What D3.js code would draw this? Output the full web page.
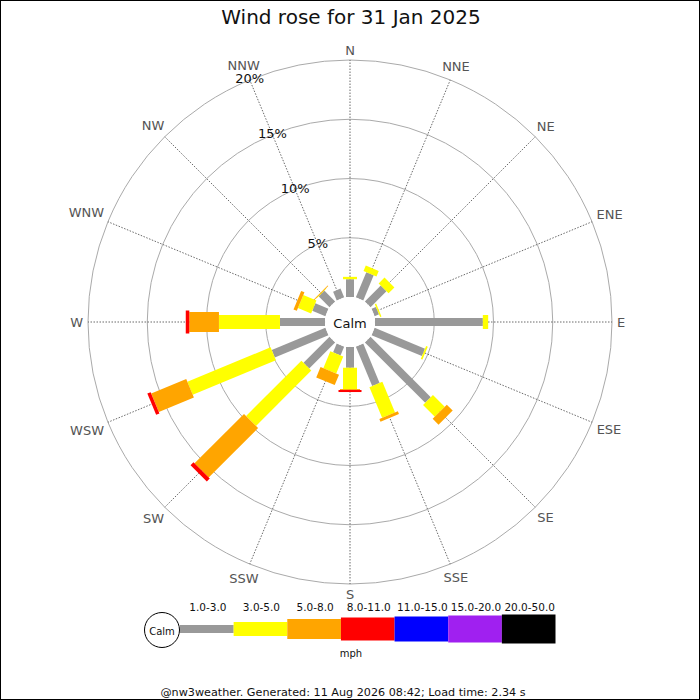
<!DOCTYPE html>
<html>
<head>
<meta charset="utf-8">
<script src="https://cdn.jsdelivr.net/npm/d3@7"></script>
<style>
  body { margin: 0; background: #fff; }
  svg { display: block; font-family: "DejaVu Sans", sans-serif; }
</style>
</head>
<body>
<div id="chart"></div>
<script>
//
// Wind rose for 31 Jan 2025 - stacked speed bands per compass direction
//

const directions = ["N", "NNE", "NE", "ENE", "E", "ESE", "SE", "SSE",
                    "S", "SSW", "SW", "WSW", "W", "WNW", "NW", "NNW"];

const speedBands = ["1.0-3.0", "3.0-5.0", "5.0-8.0", "8.0-11.0", "11.0-15.0", "15.0-20.0", "20.0-50.0"];
const bandColors = ["#999999", "#ffff00", "#ffa500", "#ff0000", "#0000ff", "#a020f0", "#000000"];
const bandWidths = [8, 14, 20, 23, 25, 27, 29];

// percentage of time per direction, one array per speed band
const band1to3   = [1.5, 2.3, 1.9, 0.4, 9.1, 4.6, 7.2, 3.6, 1.75, 0.8, 3.1, 4.9, 3.8, 1.2, 1.3, 0.8];
const band3to5   = [0.2, 0.5, 0.7, 0.12, 0.45, 0.15, 1.4, 2.8, 1.8, 1.55, 6.6, 7.6, 5.15, 1.2, 0.03, 0];
const band5to8   = [0, 0, 0, 0, 0, 0, 0.7, 0.25, 0.08, 0.95, 5.9, 3.2, 2.5, 0.3, 0.05, 0];
const band8to11  = [0, 0, 0, 0, 0, 0, 0, 0, 0.17, 0, 0.35, 0.3, 0.3, 0, 0, 0];
const band11to15 = [0, 0, 0, 0, 0, 0, 0, 0, 0, 0, 0, 0, 0, 0, 0, 0];
const band15to20 = [0, 0, 0, 0, 0, 0, 0, 0, 0, 0, 0, 0, 0, 0, 0, 0];
const band20to50 = [0, 0, 0, 0, 0, 0, 0, 0, 0, 0, 0, 0, 0, 0, 0, 0];

const ringTicks = [5, 10, 15, 20];

const bands = [band1to3, band3to5, band5to8, band8to11, band11to15, band15to20, band20to50];

// ----------------------------------------
// SETUP
// ----------------------------------------
const W = 700, H = 700;
const cx = 350, cy = 322;
const calmR = 25;

const svg = d3.select("#chart").append("svg")
    .attr("width", W)
    .attr("height", H);

svg.append("rect")
    .attr("x", 0.5).attr("y", 0.5)
    .attr("width", W - 1).attr("height", H - 1)
    .attr("fill", "#fff")
    .attr("stroke", "#000");

svg.append("text")
    .attr("x", 351).attr("y", 24)
    .attr("text-anchor", "middle")
    .attr("font-size", 20)
    .attr("fill", "#111")
    .text("Wind rose for 31 Jan 2025");

const r = d3.scaleLinear().domain([0, 20]).range([calmR, 262]);

const angle = d3.scalePoint().domain(directions).range([0, 360 - 22.5]);

const g = svg.append("g").attr("transform", `translate(${cx},${cy})`);

// ----------------------------------------
// GRID: rings and direction spokes
// ----------------------------------------
g.selectAll("circle.ring")
    .data(ringTicks)
    .join("circle")
    .attr("class", "ring")
    .attr("r", d => r(d))
    .attr("fill", "none")
    .attr("stroke", "#aaa")
    .attr("stroke-width", 1);

g.selectAll("line.spoke")
    .data(directions)
    .join("line")
    .attr("class", "spoke")
    .attr("x1", 0).attr("y1", 0)
    .attr("x2", d => r(20) * Math.sin(angle(d) * Math.PI / 180))
    .attr("y2", d => -r(20) * Math.cos(angle(d) * Math.PI / 180))
    .attr("stroke", "#444")
    .attr("stroke-width", 0.8)
    .attr("stroke-dasharray", "1.5,1.5");

// direction labels
g.selectAll("text.dir")
    .data(directions)
    .join("text")
    .attr("class", "dir")
    .attr("font-size", 13)
    .attr("fill", "#555")
    .attr("text-anchor", "middle")
    .attr("dominant-baseline", "central")
    .text(d => d)
    .each(function (d) {
        const a = angle(d) * Math.PI / 180;
        const w = this.getComputedTextLength();
        const rr = 267 + Math.abs(Math.sin(a)) * w / 2 + Math.abs(Math.cos(a)) * 5;
        d3.select(this)
            .attr("x", rr * Math.sin(a))
            .attr("y", -rr * Math.cos(a));
    });

// ----------------------------------------
// BARS
// ----------------------------------------
directions.forEach((dir, i) => {
    const dg = g.append("g")
        .attr("transform", `rotate(${angle(dir) - 90})`);
    let acc = 0;
    bands.forEach((band, b) => {
        const v = band[i];
        if (v <= 0) return;
        const x0 = r(acc), x1 = r(acc + v);
        acc += v;
        dg.append("rect")
            .attr("x", x0)
            .attr("y", -bandWidths[b] / 2)
            .attr("width", Math.max(x1 - x0, 0.8))
            .attr("height", bandWidths[b])
            .attr("fill", bandColors[b]);
    });
});

// calm circle
g.append("circle")
    .attr("r", calmR)
    .attr("fill", "#fff");

g.append("text")
    .attr("y", 1)
    .attr("text-anchor", "middle")
    .attr("dominant-baseline", "central")
    .attr("font-size", 13)
    .attr("fill", "#111")
    .text("Calm");

// ring percentage labels along NNW spoke
const labelA = angle("NNW") * Math.PI / 180;
g.selectAll("text.pct")
    .data(ringTicks)
    .join("text")
    .attr("class", "pct")
    .attr("x", d => r(d) * Math.sin(labelA))
    .attr("y", d => -r(d) * Math.cos(labelA) - 1)
    .attr("text-anchor", "middle")
    .attr("dominant-baseline", "central")
    .attr("font-size", 13)
    .attr("fill", "#111")
    .text(d => d + "%");

// ----------------------------------------
// LEGEND
// ----------------------------------------
const legX = d3.scaleBand().domain(speedBands).range([180, 555.5]);
const leg = svg.append("g");
const legMid = 629;

leg.append("circle")
    .attr("cx", 162).attr("cy", 630)
    .attr("r", 17.5)
    .attr("fill", "#fff")
    .attr("stroke", "#000");

leg.append("text")
    .attr("x", 162).attr("y", 631)
    .attr("text-anchor", "middle")
    .attr("dominant-baseline", "central")
    .attr("font-size", 10)
    .attr("fill", "#111")
    .text("Calm");

leg.selectAll("rect.key")
    .data(speedBands)
    .join("rect")
    .attr("class", "key")
    .attr("x", d => legX(d))
    .attr("width", legX.bandwidth())
    .attr("y", (d, i) => legMid - bandWidths[i] / 2)
    .attr("height", (d, i) => bandWidths[i])
    .attr("fill", (d, i) => bandColors[i]);

leg.selectAll("text.key")
    .data(speedBands)
    .join("text")
    .attr("class", "key")
    .attr("x", d => legX(d) + legX.bandwidth() / 2 + 1)
    .attr("y", 611)
    .attr("text-anchor", "middle")
    .attr("font-size", 10.5)
    .attr("fill", "#111")
    .text(d => d);

leg.append("text")
    .attr("x", 351).attr("y", 657)
    .attr("text-anchor", "middle")
    .attr("font-size", 10)
    .attr("fill", "#111")
    .text("mph");

svg.append("text")
    .attr("x", 343).attr("y", 696)
    .attr("text-anchor", "middle")
    .attr("font-size", 11.2)
    .attr("fill", "#111")
    .text("@nw3weather. Generated: 11 Aug 2026 08:42; Load time: 2.34 s");
</script>
</body>
</html>
